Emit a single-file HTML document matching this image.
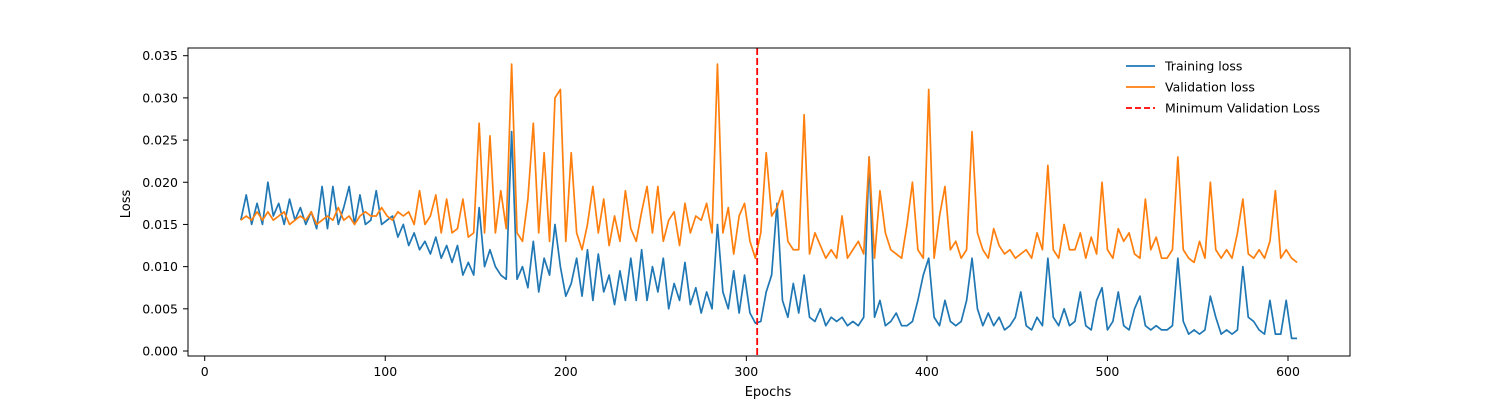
<!DOCTYPE html>
<html><head><meta charset="utf-8"><style>
body{margin:0;background:#fff}
svg{display:block;font-family:"DejaVu Sans","Liberation Sans",sans-serif}
</style></head><body>
<svg id="chart" width="1500" height="400" viewBox="0 0 1500 400" xmlns="http://www.w3.org/2000/svg">
<rect width="1500" height="400" fill="#fff"/>
<g id="plot"></g>
</svg>
<script>
// loss values in units of 1e-3, sampled every 3 epochs from epoch 20
const startEpoch = 20;
const epochStep = 3;
const trainLoss = [15.5,18.5,15,17.5,15,20,16,17.5,15,18,15.5,17,15,16.5,14.5,19.5,14.5,19.5,15,17,19.5,15,18.5,15,15.5,19,15,15.5,16,13.5,15,12.5,14,12,13,11.5,13.5,11,12.5,10.5,12.5,9,10.5,9,17,10,12,10,9,8.5,26,8.5,10,7.5,13,7,11,9,15,10,6.5,8,11,6.5,12,6,11.5,7,9,5.5,9.5,6,11,6,12,6,10,7,11,5,8,6,10.5,5.5,7.5,4.5,7,5,15,7,5,9.5,4.5,9,4.5,3.3,3.5,7,9,17.5,6,4,8,4.5,9,4,3.5,5,3,4,3.5,4,3,3.5,3,4,23,4,6,3,3.5,4.5,3,3,3.5,6,9,11,4,3,6,3.5,3,3.5,6,11,5,3,4.5,3,4,2.5,3,4,7,3,2.5,4,3,11,4,3,5,3,3.5,7,3,2.5,6,7.5,2.5,3.5,7,3,2.5,5,6.5,3,2.5,3,2.5,2.5,3,11,3.5,2,2.5,2,2.5,6.5,4,2,2.5,2,2.5,10,4,3.5,2.5,2,6,2,2,6,1.5,1.5];
const valLoss = [15.5,16,15.5,16.5,15.5,16.5,15.5,16,16.5,15,15.5,16,15.5,16.5,15,15.5,16,15.5,17,15.5,16,15,16,16.5,16,16,17,16,15.5,16.5,16,16.5,15,19,15,16,18.5,14,18,14,14.5,18,13.5,14,27,14,25.5,14,19,14.5,34,14,13,18,27,14,23.5,13,30,31,13,23.5,14,12,15,19.5,14,18,12.5,16,13,19,14.5,13,16.5,19.5,14,19.5,13,15.5,16.5,12.5,17.5,14,16,15.5,17.5,14,34,14,17,11.5,16,17.5,13,11,14,23.5,16,17,19,13,12,12,28,11.5,14,12.5,11,12,11,16,11,12,13,11.5,23,11,19,14,12,11.5,11,15,20,12,11,31,11,16,19.5,12,13,11,12,26,14,12,11,14.5,12.5,11.5,12,11,11.5,12,11,14,12,22,12,11,15,12,12,14,11,13.5,11.5,20,12,11,14.5,13,14,11.5,11,18,12,13.5,11,11,12,23,12,11,10.5,13,11,20,12,11,12,11,14,18,11.5,11,12,11,13,19,11,12,11,10.5];
const minValEpoch = 306;
const xTicks = [0,100,200,300,400,500,600];
const yTicks = [0,0.005,0.010,0.015,0.020,0.025,0.030,0.035];
const yTickLabels = ["0.000","0.005","0.010","0.015","0.020","0.025","0.030","0.035"];

const NS="http://www.w3.org/2000/svg";
const L=188,R=1350,T=48,B=356;
const xs=e=>204.7+e*(1083.3/600);
const ys=v=>351-v*(295.3/0.035);
const g=document.getElementById('plot');
function mk(tag,at,parent){const e=document.createElementNS(NS,tag);for(const k in at)e.setAttribute(k,at[k]);(parent||g).appendChild(e);return e;}

function series(arr,color,name){
  let d='';
  arr.forEach((v,i)=>{d+=(i?'L':'M')+xs(startEpoch+i*epochStep).toFixed(2)+' '+ys(v*1e-3).toFixed(2);});
  const p=mk('path',{d:d,fill:'none',stroke:color,'stroke-width':1.7,'stroke-linejoin':'round'});
  
  
}
series(trainLoss,'#1f77b4','training-loss-line');
series(valLoss,'#ff7f0e','validation-loss-line');
const ml=mk('line',{x1:xs(minValEpoch),x2:xs(minValEpoch),y1:T,y2:B,stroke:'#ff0000','stroke-width':1.8,'stroke-dasharray':'7,3'});



const fr=mk('rect',{x:L,y:T,width:R-L,height:B-T,fill:'none',stroke:'#000','stroke-width':1});



xTicks.forEach(t=>{
  const x=xs(t);
  mk('line',{x1:x,x2:x,y1:B,y2:B+5,stroke:'#000'});
  const tx=mk('text',{x:x,y:B+20,'text-anchor':'middle','font-size':12.5,fill:'#000'});
  tx.textContent=t;
  
  
});
yTicks.forEach((t,i)=>{
  const y=ys(t);
  mk('line',{x1:L-5,x2:L,y1:y,y2:y,stroke:'#000'});
  const tx=mk('text',{x:L-10,y:y+4.5,'text-anchor':'end','font-size':12.5,fill:'#000'});
  tx.textContent=yTickLabels[i];
  
  
});
const xl=mk('text',{x:768,y:396,'text-anchor':'middle','font-size':13});xl.textContent='Epochs';


const yl=mk('text',{x:130,y:204,'text-anchor':'middle','font-size':13,transform:'rotate(-90 130 204)'});yl.textContent='Loss';



const legend=[['Training loss','#1f77b4',''],['Validation loss','#ff7f0e',''],['Minimum Validation Loss','#ff0000','6,3']];
legend.forEach((it,i)=>{
  const y=66+i*21;
  const gg=mk('g',{});
  
  
  mk('line',{x1:1126,x2:1155,y1:y,y2:y,stroke:it[1],'stroke-width':1.8,'stroke-dasharray':it[2]||'none'},gg);
  const t=mk('text',{x:1165,y:y+4.5,'font-size':12.5},gg);t.textContent=it[0];
});
</script>
</body></html>
